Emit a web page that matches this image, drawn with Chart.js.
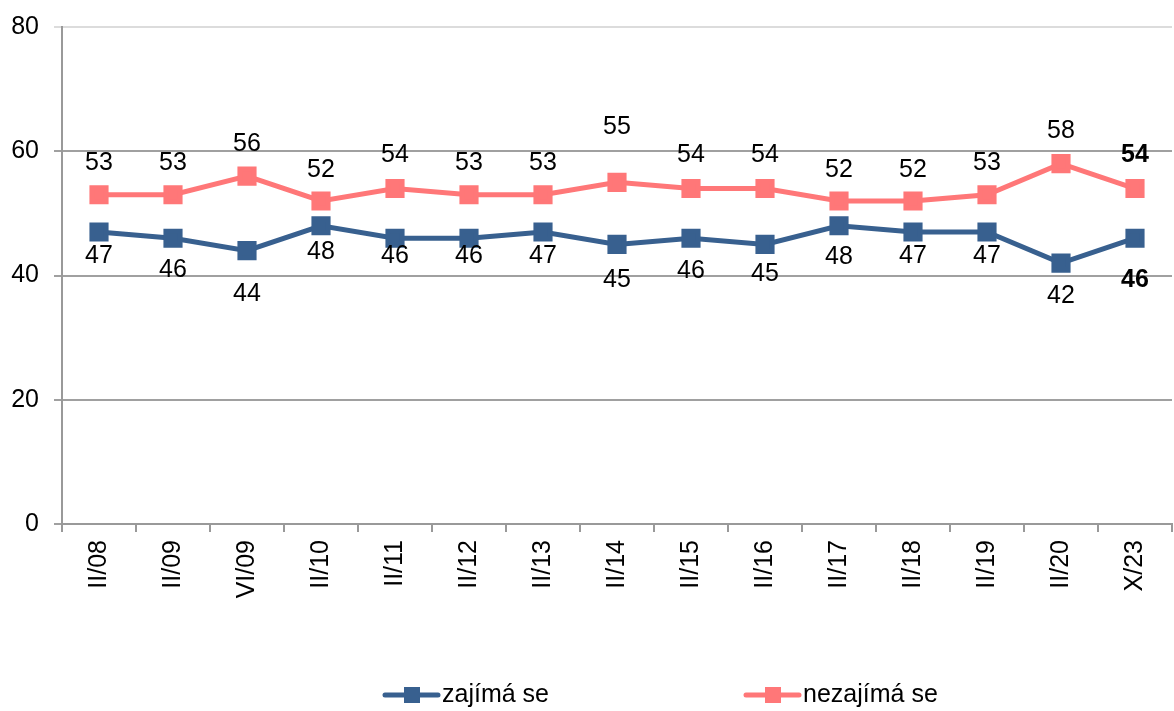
<!DOCTYPE html>
<html>
<head>
<meta charset="utf-8">
<script src="https://cdn.jsdelivr.net/npm/chart.js@4/dist/chart.umd.min.js"></script>
<style>
  html, body { margin: 0; padding: 0; background: #fff; }
  #wrap { width: 1174px; height: 711px; }
</style>
</head>
<body>
<div id="wrap"><canvas id="line-chart" width="1174" height="711"></canvas></div>
<script>
var categories = ['II/08', 'II/09', 'VI/09', 'II/10', 'II/11', 'II/12', 'II/13', 'II/14', 'II/15', 'II/16', 'II/17', 'II/18', 'II/19', 'II/20', 'X/23'];
var zajimaSe = [47, 46, 44, 48, 46, 46, 47, 45, 46, 45, 48, 47, 47, 42, 46];
var nezajimaSe = [53, 53, 56, 52, 54, 53, 53, 55, 54, 54, 52, 52, 53, 58, 54];
var yTicks = [0, 20, 40, 60, 80];

var blue = '#38608f';
var pink = '#ff7778';
var fontFamily = '"Liberation Sans", Arial, sans-serif';

// label placement, like Excel put them (px from the point)
var labelShift = [
    [24, 32, 43, 26, 18, 18, 24, 36, 33, 30, 31, 24, 24, 33, 42],
    [-32, -32, -32, -31, -33, -32, -32, -55, -33, -33, -31, -31, -32, -33, -33]
];

// value labels: blue below the points, pink above, last point bold
var valueLabels = {
    id: 'valueLabels',
    afterDatasetsDraw: function (chart) {
        var ctx = chart.ctx;
        ctx.save();
        ctx.fillStyle = '#000';
        ctx.textAlign = 'center';
        ctx.textBaseline = 'middle';
        chart.data.datasets.forEach(function (ds, i) {
            var meta = chart.getDatasetMeta(i);
            meta.data.forEach(function (pt, j) {
                var last = j === ds.data.length - 1;
                ctx.font = (last ? 'bold ' : '') + '25px ' + fontFamily;
                ctx.fillText(String(ds.data[j]), pt.x, pt.y + labelShift[i][j]);
            });
        });
        ctx.restore();
    }
};

// legend drawn at the bottom, wide gap between the two entries
var bottomLegend = {
    id: 'bottomLegend',
    afterDraw: function (chart) {
        var ctx = chart.ctx;
        var items = [
            { text: 'zajímá se', color: blue, x: 385 },
            { text: 'nezajímá se', color: pink, x: 746 }
        ];
        var y = 695;
        ctx.save();
        ctx.font = '25px ' + fontFamily;
        ctx.textBaseline = 'middle';
        items.forEach(function (it) {
            ctx.strokeStyle = it.color;
            ctx.lineWidth = 5;
            ctx.lineCap = 'round';
            ctx.beginPath();
            ctx.moveTo(it.x, y);
            ctx.lineTo(it.x + 53, y);
            ctx.stroke();
            ctx.fillStyle = it.color;
            ctx.fillRect(it.x + 19, y - 8, 16, 16);
            ctx.fillStyle = '#000';
            ctx.fillText(it.text, it.x + 57, y);
        });
        ctx.restore();
    }
};

var lineConfig = {
    type: 'line',
    data: {
        labels: categories,
        datasets: [{
            label: 'zajímá se',
            data: zajimaSe,
            borderColor: blue,
            backgroundColor: blue,
            borderWidth: 5,
            pointStyle: 'rect',
            pointRadius: 10,
            pointHoverRadius: 10,
            tension: 0
        }, {
            label: 'nezajímá se',
            data: nezajimaSe,
            borderColor: pink,
            backgroundColor: pink,
            borderWidth: 5,
            pointStyle: 'rect',
            pointRadius: 10,
            pointHoverRadius: 10,
            tension: 0
        }]
    },
    options: {
        responsive: false,
        animation: false,
        layout: {
            autoPadding: false,
            padding: { top: 27, right: 2, bottom: 0, left: 0 }
        },
        plugins: {
            legend: { display: false },
            tooltip: { enabled: false }
        },
        scales: {
            x: {
                offset: true,
                afterFit: function (scale) {
                    scale.height = 187;
                    scale.paddingLeft = 0;
                    scale.paddingRight = 0;
                },
                grid: {
                    offset: true,
                    drawOnChartArea: false,
                    drawTicks: true,
                    tickLength: 8,
                    color: '#999',
                    lineWidth: 2
                },
                border: { color: '#999', width: 2 },
                ticks: {
                    minRotation: 90,
                    maxRotation: 90,
                    padding: 8,
                    color: '#000',
                    font: { family: fontFamily, size: 25 }
                }
            },
            y: {
                min: 0,
                max: 80,
                afterFit: function (scale) {
                    scale.width = 62;
                    scale.paddingTop = 0;
                    scale.paddingBottom = 0;
                },
                afterBuildTicks: function (scale) {
                    scale.ticks = yTicks.map(function (v) { return { value: v }; });
                },
                grid: {
                    color: function (c) { return c.tick && c.tick.value === 80 ? '#dcdcdc' : '#a0a0a0'; },
                    lineWidth: 2,
                    tickLength: 8
                },
                border: { color: '#999', width: 2 },
                ticks: {
                    padding: 15,
                    color: '#000',
                    font: { family: fontFamily, size: 25 }
                }
            }
        }
    },
    plugins: [valueLabels, bottomLegend]
};

var lineContext = document.getElementById('line-chart').getContext('2d');
window.myLine = new Chart(lineContext, lineConfig);
</script>
</body>
</html>
